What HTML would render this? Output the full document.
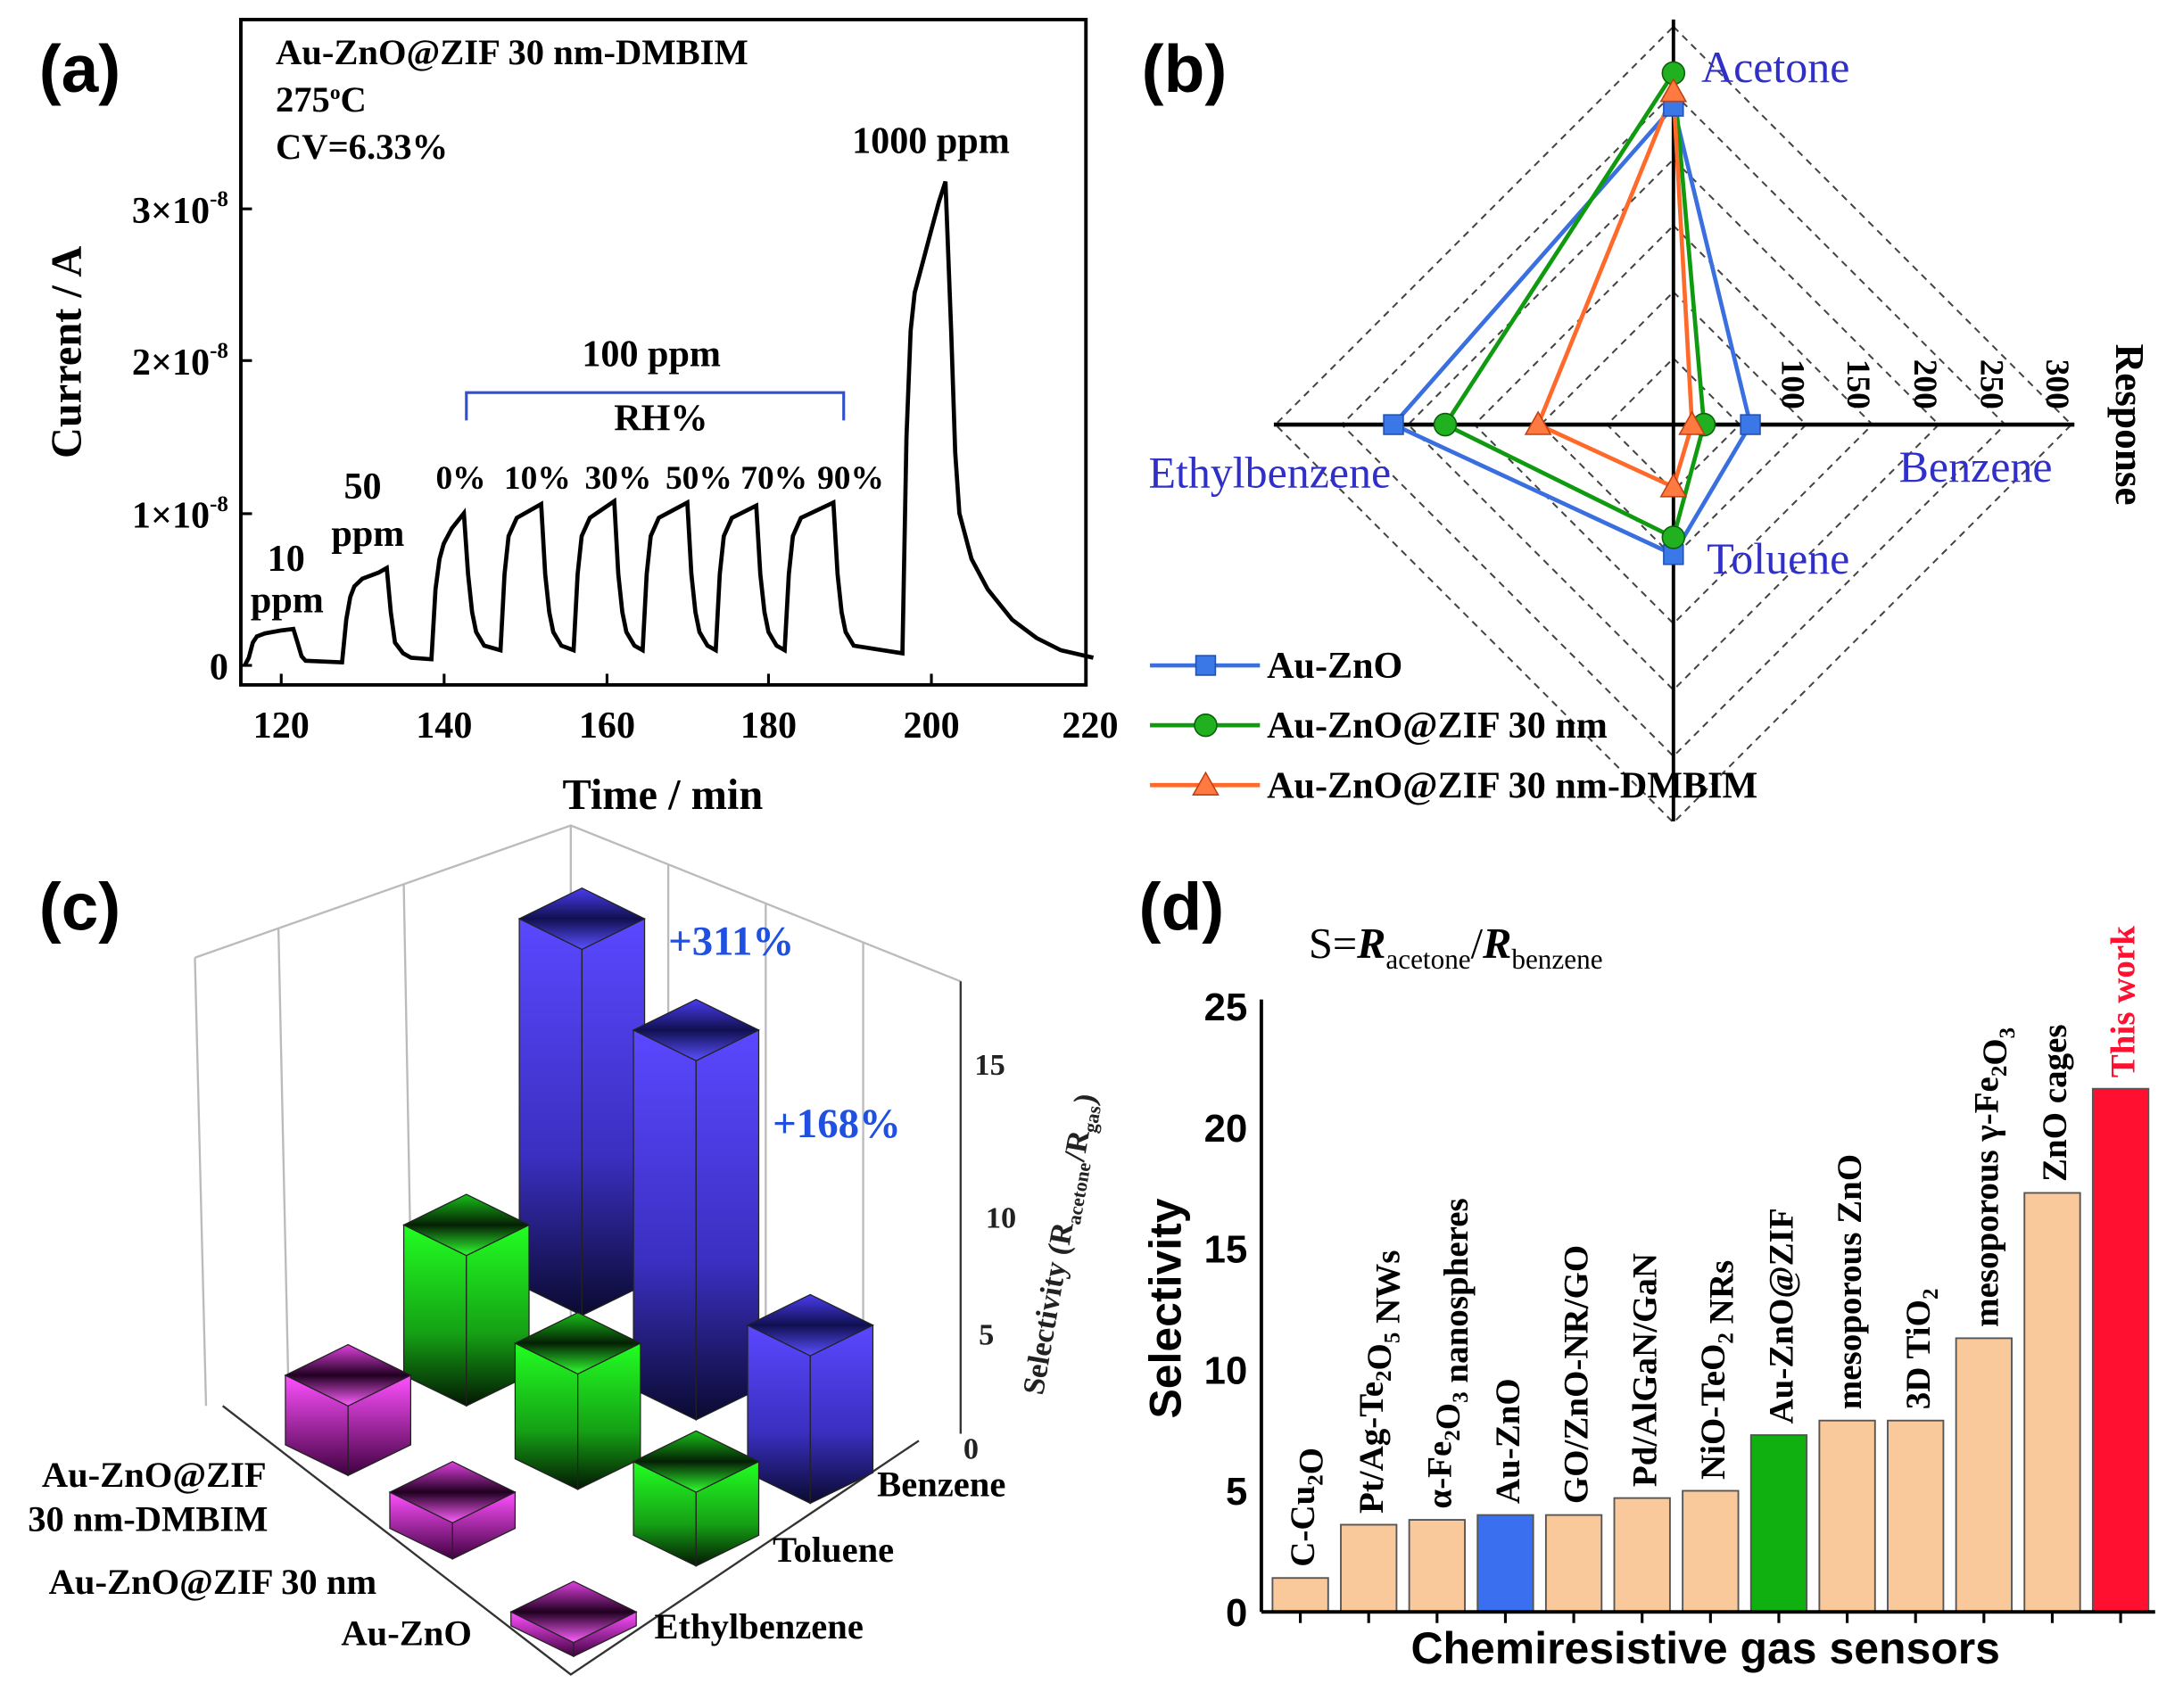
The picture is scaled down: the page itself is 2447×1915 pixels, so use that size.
<!DOCTYPE html>
<html><head><meta charset="utf-8"><style>
html,body{margin:0;padding:0;background:#fff;}
svg{display:block;}
.s{font-family:"Liberation Serif",serif;font-weight:bold;}
.sa{font-family:"Liberation Sans",sans-serif;font-weight:bold;}
</style></head><body>
<svg id="g" width="2447" height="1915" viewBox="0 0 1568 1227" xmlns="http://www.w3.org/2000/svg">
<defs>
<linearGradient id="gb" x1="0" y1="0" x2="0" y2="1"><stop offset="0" stop-color="#5a48ff"/><stop offset="0.6" stop-color="#3a2fc0"/><stop offset="1" stop-color="#0a0a30"/></linearGradient>
<linearGradient id="gg" x1="0" y1="0" x2="0" y2="1"><stop offset="0" stop-color="#22ff22"/><stop offset="0.6" stop-color="#15a015"/><stop offset="1" stop-color="#031803"/></linearGradient>
<linearGradient id="gm" x1="0" y1="0" x2="0" y2="1"><stop offset="0" stop-color="#ff50ff"/><stop offset="1" stop-color="#400040"/></linearGradient>
<linearGradient id="tb" x1="0" y1="0" x2="0" y2="1"><stop offset="0" stop-color="#4a3cf0"/><stop offset="0.5" stop-color="#101050"/><stop offset="1" stop-color="#5a50ff"/></linearGradient>
<linearGradient id="tg" x1="0" y1="0" x2="0" y2="1"><stop offset="0" stop-color="#18c018"/><stop offset="0.5" stop-color="#052005"/><stop offset="1" stop-color="#30ff30"/></linearGradient>
<linearGradient id="tm" x1="0" y1="0" x2="0" y2="1"><stop offset="0" stop-color="#e040e0"/><stop offset="0.5" stop-color="#200020"/><stop offset="1" stop-color="#ff60ff"/></linearGradient>
</defs>

<!-- Panel (a) -->
<text x="28" y="66" class="sa" font-size="48">(a)</text>
<rect x="173" y="14" width="607" height="478" fill="none" stroke="#000" stroke-width="2.5"/>
<g stroke="#000" stroke-width="2">
<line x1="202" y1="492" x2="202" y2="484"/><line x1="319" y1="492" x2="319" y2="484"/><line x1="436" y1="492" x2="436" y2="484"/><line x1="552" y1="492" x2="552" y2="484"/><line x1="669" y1="492" x2="669" y2="484"/>
<line x1="173" y1="478" x2="181" y2="478"/><line x1="173" y1="369" x2="181" y2="369"/><line x1="173" y1="259" x2="181" y2="259"/><line x1="173" y1="150" x2="181" y2="150"/>
</g>
<g class="s" font-size="27" text-anchor="middle">
<text x="202" y="530">120</text><text x="319" y="530">140</text><text x="436" y="530">160</text><text x="552" y="530">180</text><text x="669" y="530">200</text><text x="783" y="530">220</text>
</g>
<g class="s" font-size="27" text-anchor="end">
<text x="164" y="488">0</text>
<text x="164" y="379">1×10<tspan font-size="16" dy="-12">-8</tspan></text>
<text x="164" y="269">2×10<tspan font-size="16" dy="-12">-8</tspan></text>
<text x="164" y="160">3×10<tspan font-size="16" dy="-12">-8</tspan></text>
</g>
<text class="s" font-size="31" text-anchor="middle" transform="translate(58,253) rotate(-90)">Current / A</text>
<text class="s" font-size="31" x="476" y="581" text-anchor="middle">Time / min</text>
<g class="s" font-size="26">
<text x="198" y="46">Au-ZnO@ZIF 30 nm-DMBIM</text>
<text x="198" y="80">275<tspan font-size="15" dy="-9">o</tspan><tspan dy="9">C</tspan></text>
<text x="198" y="114">CV=6.33%</text>
<text x="612" y="110" font-size="27">1000 ppm</text>
<text x="418" y="263" font-size="27">100 ppm</text>
<text x="441" y="309" font-size="27">RH%</text>
<text x="313" y="351" font-size="24">0%</text><text x="362" y="351" font-size="24">10%</text><text x="420" y="351" font-size="24">30%</text><text x="478" y="351" font-size="24">50%</text><text x="532" y="351" font-size="24">70%</text><text x="587" y="351" font-size="24">90%</text>
<text x="247" y="358" font-size="27">50</text><text x="238" y="392" font-size="27">ppm</text>
<text x="192" y="410" font-size="27">10</text><text x="180" y="440" font-size="27">ppm</text>
</g>
<polyline points="335,302 335,282 606,282 606,302" fill="none" stroke="#3050d0" stroke-width="2"/>
<path id="curve" fill="none" stroke="#000" stroke-width="3"/>

<!-- Panel (b) -->
<text x="820" y="66" class="sa" font-size="48">(b)</text>
<g id="radar"></g>
<g font-family="Liberation Serif, serif" font-size="32" fill="#3030c8">
<text x="1222" y="59">Acetone</text>
<text x="825" y="350">Ethylbenzene</text>
<text x="1364" y="346">Benzene</text>
<text x="1226" y="412">Toluene</text>
</g>
<g class="s" font-size="24">
<text transform="translate(1280,258) rotate(90)">100</text>
<text transform="translate(1327,258) rotate(90)">150</text>
<text transform="translate(1375,258) rotate(90)">200</text>
<text transform="translate(1423,258) rotate(90)">250</text>
<text transform="translate(1470,258) rotate(90)">300</text>
<text font-size="29" text-anchor="middle" transform="translate(1520,305) rotate(90)">Response</text>
</g>
<g id="leg"></g>
<g class="s" font-size="27">
<text x="910" y="487">Au-ZnO</text>
<text x="910" y="530">Au-ZnO@ZIF 30 nm</text>
<text x="910" y="573">Au-ZnO@ZIF 30 nm-DMBIM</text>
</g>

<!-- Panel (c) -->
<text x="28" y="668" class="sa" font-size="48">(c)</text>
<g stroke="#bbb" stroke-width="1.5" fill="none">
<polyline points="140,688 410,593 690,705"/>
<line x1="410" y1="593" x2="410" y2="1010"/>
<line x1="140" y1="688" x2="148" y2="1010"/>
<line x1="200" y1="667" x2="207" y2="990"/><line x1="290" y1="635" x2="296" y2="960"/>
<line x1="480" y1="621" x2="480" y2="960"/><line x1="550" y1="649" x2="550" y2="970"/><line x1="620" y1="677" x2="620" y2="1000"/>
</g>
<g stroke="#333" stroke-width="1.5" fill="none">
<polyline points="160,1010 410,1203 660,1035"/>
<line x1="690" y1="705" x2="690" y2="1030"/>
</g>
<g id="bars"></g>
<g class="s" font-size="30" fill="#2050e0">
<text x="480" y="686">+311%</text><text x="555" y="817">+168%</text>
</g>
<g class="s" font-size="22" fill="#222">
<text x="692" y="1048">0</text><text x="703" y="966">5</text><text x="708" y="882">10</text><text x="700" y="772">15</text>
<text font-size="22" text-anchor="middle" transform="translate(768,895) rotate(-80)">Selectivity (R<tspan font-size="14" dy="5">acetone</tspan><tspan dy="-5">/R</tspan><tspan font-size="14" dy="5">gas</tspan><tspan dy="-5">)</tspan></text>
</g>
<g class="s" font-size="26">
<text x="630" y="1075">Benzene</text>
<text x="555" y="1122">Toluene</text>
<text x="470" y="1177">Ethylbenzene</text>
<text x="30" y="1068">Au-ZnO@ZIF</text>
<text x="20" y="1100">30 nm-DMBIM</text>
<text x="35" y="1145">Au-ZnO@ZIF 30 nm</text>
<text x="245" y="1182">Au-ZnO</text>
</g>

<!-- Panel (d) -->
<text x="818" y="668" class="sa" font-size="48">(d)</text>
<text font-family="Liberation Serif, serif" x="940" y="688" font-size="31">S=<tspan font-style="italic" font-weight="bold">R</tspan><tspan font-size="20" dy="8">acetone</tspan><tspan dy="-8">/</tspan><tspan font-style="italic" font-weight="bold">R</tspan><tspan font-size="20" dy="8">benzene</tspan></text>
<g id="dbars"></g>
<g stroke="#000" stroke-width="2.5"><line x1="906" y1="718" x2="906" y2="1158"/><line x1="906" y1="1158" x2="1548" y2="1158"/></g>
<g class="sa" font-size="28" text-anchor="end">
<text x="896" y="1168">0</text><text x="896" y="1081">5</text><text x="896" y="994">10</text><text x="896" y="907">15</text><text x="896" y="820">20</text><text x="896" y="733">25</text>
</g>
<text class="sa" font-size="32" text-anchor="middle" transform="translate(848,940) rotate(-90)">Selectivity</text>
<text class="sa" font-size="32" text-anchor="middle" x="1225" y="1195">Chemiresistive gas sensors</text>
</svg>
<script>
var NS="http://www.w3.org/2000/svg";
function el(p,t,a,txt){var e=document.createElementNS(NS,t);for(var k in a)e.setAttribute(k,a[k]);if(txt!==undefined)e.textContent=txt;p.appendChild(e);return e;}
var P=[[115.5,0],[116,0.05],[116.5,0.15],[117,0.19],[118,0.21],[120,0.23],[121.5,0.24],[122,0.15],[122.5,0.06],[123,0.03],[127.5,0.02],[128,0.3],[128.5,0.45],[129,0.52],[130,0.57],[132,0.61],[133,0.64],[133.5,0.35],[134,0.15],[135,0.08],[136,0.05],[138.5,0.04],[139,0.5],[139.5,0.7],[140,0.8],[141,0.9],[142.5,1.0]];
var pulses=[[147,152,1.06],[156,161,1.08],[164.5,170,1.07],[173.5,178.5,1.05],[182,188,1.07]];
function decay(e){P.push([e+0.5,0.6],[e+1,0.35],[e+1.5,0.22],[e+2.5,0.13]);}
decay(142.5);
pulses.forEach(function(p){P.push([p[0],0.1],[p[0]+0.5,0.6],[p[0]+1,0.85],[p[0]+2,0.97],[p[1],p[2]]);decay(p[1]);});
P.push([196.5,0.08],[197,1.5],[197.5,2.2],[198,2.45],[199,2.65],[200,2.85],[201,3.05],[201.8,3.18],[202.5,2.2],[203,1.4],[203.5,1.0],[205,0.7],[207,0.5],[210,0.3],[213,0.18],[216,0.1],[220,0.05]);
var d=P.map(function(q,i){return (i?"L":"M")+(202+(q[0]-120)*5.833).toFixed(1)+","+(478-q[1]*109.3).toFixed(1);}).join(" ");
document.getElementById("curve").setAttribute("d",d);
var R=document.getElementById("radar"),cx=1202,cy=305,k=0.953;
for(var r=50;r<=300;r+=50){var s=r*k;el(R,"polygon",{points:[cx,cy-s,cx+s,cy,cx,cy+s,cx-s,cy].join(","),fill:"none",stroke:"#444","stroke-width":1.3,"stroke-dasharray":"5,4"});}
el(R,"line",{x1:915,y1:cy,x2:1490,y2:cy,stroke:"#000","stroke-width":3});
el(R,"line",{x1:cx,y1:14,x2:cx,y2:590,stroke:"#000","stroke-width":2.5});
var ser=[["#3a6fe0",[240,58,98,211],"sq"],["#109a10",[265,23,85,172],"ci"],["#ff6a2a",[251,14,47,102],"tr"]];
function pts(v){return [[cx,cy-v[0]*k],[cx+v[1]*k,cy],[cx,cy+v[2]*k],[cx-v[3]*k,cy]];}
function mark(g,t,x,y,c){if(t=="sq")el(g,"rect",{x:x-7,y:y-7,width:14,height:14,fill:"#3a78e8",stroke:"#2050b0","stroke-width":1});
else if(t=="ci")el(g,"circle",{cx:x,cy:y,r:8,fill:"#20b020",stroke:"#0a600a","stroke-width":1});
else el(g,"polygon",{points:[x,y-9,x+9,y+7,x-9,y+7].join(","),fill:"#ff7a40",stroke:"#c04010","stroke-width":1});}
ser.forEach(function(s){var p=pts(s[1]);el(R,"polygon",{points:p.map(function(a){return a.join(",")}).join(" "),fill:"none",stroke:s[0],"stroke-width":3});});
ser.forEach(function(s){pts(s[1]).forEach(function(a){mark(R,s[2],a[0],a[1]);});});
var L=document.getElementById("leg");
ser.forEach(function(s,i){var y=[478,521,564][i];el(L,"line",{x1:826,y1:y,x2:905,y2:y,stroke:s[0],"stroke-width":3});mark(L,s[2],866,y);});
var B=document.getElementById("bars");
function bar(x,ty,h,c){var w=45,t=22;
el(B,"polygon",{points:[x-w,ty,x,ty+t,x,ty+t+h,x-w,ty+h].join(","),fill:"url(#g"+c+")",stroke:"#222","stroke-width":0.8});
el(B,"polygon",{points:[x,ty+t,x+w,ty,x+w,ty+h,x,ty+t+h].join(","),fill:"url(#g"+c+")",stroke:"#222","stroke-width":0.8});
el(B,"polygon",{points:[x-w,ty,x,ty-t,x+w,ty,x,ty+t].join(","),fill:"url(#t"+c+")",stroke:"#222","stroke-width":0.8});}
bar(418,660,263,"b");bar(500,740,258,"b");bar(335,880,108,"g");bar(250,988,50,"m");bar(415,965,83,"g");bar(582,952,106,"b");bar(325,1072,26,"m");bar(500,1050,53,"g");bar(412,1158,10,"m");
var D=document.getElementById("dbars");
var vals=[1.4,3.6,3.8,4.0,4.0,4.7,5.0,7.3,7.9,7.9,11.3,17.3,21.6];
var cols=["#f9c89b","#f9c89b","#f9c89b","#3a6ff0","#f9c89b","#f9c89b","#f9c89b","#10b010","#f9c89b","#f9c89b","#f9c89b","#f9c89b","#ff1030"];
var labs=[["C-Cu",["2"],"O"],["Pt/Ag-Te",["2"],"O",["5"]," NWs"],["α-Fe",["2"],"O",["3"]," nanospheres"],["Au-ZnO"],["GO/ZnO-NR/GO"],["Pd/AlGaN/GaN"],["NiO-TeO",["2"]," NRs"],["Au-ZnO@ZIF"],["mesoporous ZnO"],["3D TiO",["2"]],["mesoporous γ-Fe",["2"],"O",["3"]],["ZnO cages"],["This work"]];
vals.forEach(function(v,i){var x=934+i*49.1,h=v*17.4;
el(D,"rect",{x:x-20,y:1158-h,width:40,height:h,fill:cols[i],stroke:"#555","stroke-width":1.2});
el(D,"line",{x1:x,y1:1158,x2:x,y2:1166,stroke:"#000","stroke-width":2});
var t=el(D,"text",{"class":"s","font-size":25,transform:"translate("+(x+10)+","+(1158-h-8)+") rotate(-90)",fill:i==12?"#ff1030":"#000"});
labs[i].forEach(function(p){if(typeof p=="string"){el(t,"tspan",{},p);}else{el(t,"tspan",{"font-size":16,dy:6},p[0]);el(t,"tspan",{dy:-6},"");}});
});
</script>
</body></html>
